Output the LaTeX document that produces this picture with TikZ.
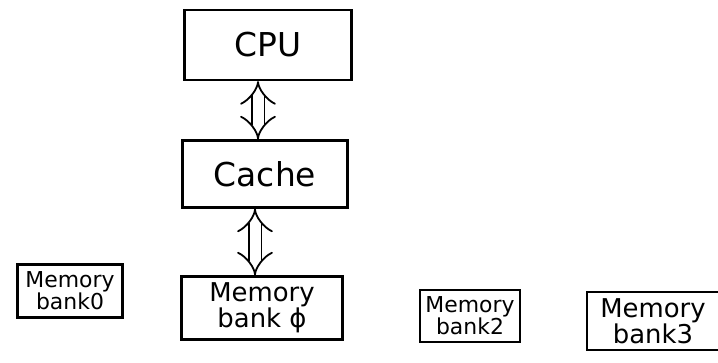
\documentclass[tikz,border=0pt]{standalone}
\usepackage{fontspec}
\setmainfont{DejaVu Sans}
\usetikzlibrary{arrows.meta}
\begin{document}
\begin{tikzpicture}[x=1bp,y=-1bp,
  box/.style={draw,line width=2.2bp,inner sep=0pt},
  lbl/.style={font=\fontsize{33}{35}\selectfont},
  mlbl/.style={font=\fontsize{26}{25}\selectfont,align=center},
  slbl/.style={font=\fontsize{22}{20}\selectfont,align=center},
  dbl/.style={double,double distance=11bp,line width=1.8bp,{Implies[length=8bp]}-{Implies[length=8bp]}}]
\useasboundingbox (0,0) rectangle (718,362);
\node[box,minimum width=167bp,minimum height=70bp,lbl] (cpu) at (268,45) {CPU};
\node[box,minimum width=165bp,minimum height=67bp,lbl] (cache) at (265,174) {Cache};
\node[box,minimum width=105bp,minimum height=53bp,slbl] (m0) at (70,291) {Memory\\bank0};
\node[box,minimum width=161bp,minimum height=63bp,mlbl] (m1) at (262,308) {Memory\\bank ϕ};
\node[box,minimum width=100bp,minimum height=52bp,slbl] (m2) at (470,316) {Memory\\bank2};
\node[box,minimum width=132bp,minimum height=58bp,mlbl] (m3) at (653,321) {Memory\\bank3};
\draw[dbl] (cpu.south -| 258,0) -- (cache.north -| 258,0);
\draw[dbl] (cache.south -| 255,0) -- (m1.north -| 255,0);
\end{tikzpicture}
\end{document}
